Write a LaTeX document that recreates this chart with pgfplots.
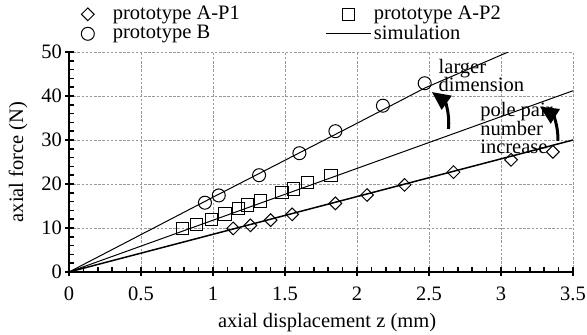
\documentclass[border=0pt]{standalone}
\usepackage{fontspec}
\setmainfont{Liberation Serif}
\usepackage{pgfplots}
\pgfplotsset{compat=1.18}
\usetikzlibrary{arrows.meta}
\pgfplotsset{
  markleg/.style={legend image code/.code={\path[draw=none,fill=none] (0cm,-0.1cm) rectangle (0.95cm,0.1cm); \draw[##1] plot coordinates {(0.475cm,0cm)};}},
  lineleg/.style={legend image code/.code={\path[draw=none,fill=none] (0cm,-0.1cm) rectangle (0.95cm,0.1cm); \draw[##1] (0cm,0cm) -- (0.95cm,0cm);}},
}
\begin{document}
\fontsize{12.3}{14}\selectfont
\begin{tikzpicture}[font=\fontsize{12.3}{14}\selectfont]
\begin{axis}[
  scale only axis, width=302.4pt, height=132pt,
  xmin=0, xmax=3.5, ymin=0, ymax=50,
  xtick={0,0.5,1,1.5,2,2.5,3,3.5}, ytick={0,10,20,30,40,50},
  xticklabels={0,0.5,1,1.5,2,2.5,3,3.5},
  minor x tick num=4, minor y tick num=4,
  axis x line=bottom, axis y line=left,
  axis line style={-, line width=1.2pt, black},
  tick align=inside, major tick length=5.4pt, minor tick length=3pt,
  tick style={black, line width=0.9pt},
  every major x tick/.append style={yshift=-2.4pt},
  every major y tick/.append style={xshift=-2.4pt},
  grid=major,
  major grid style={gray!80, dash pattern=on 1.5pt off 1pt, line width=0.6pt},
  /pgf/number format/assume math mode=true,
  xticklabel style={yshift=-4.5pt},
  xlabel={axial displacement z (mm)},
  ylabel={axial force (N)},
  xlabel style={at={(axis description cs:0.512,-0.2545)}, anchor=base},
  ylabel style={at={(axis description cs:-0.101,0.5)}, anchor=center},
  legend columns=2,
  legend cell align=left,
  legend style={draw=none, fill=none, inner sep=0pt,
    at={(axis description cs:-0.008,1.222)}, anchor=north west,
    row sep=-1.5pt, nodes={inner sep=1.5pt}},
]
\addplot[markleg, only marks, mark=square, mark size=2.7pt, mark options={rotate=45, line width=0.6pt, black}] coordinates {
(1.14,9.9)(1.26,10.6)(1.40,11.8)(1.55,13.1)(1.85,15.6)(2.07,17.5)(2.33,19.8)(2.67,22.7)(3.07,25.5)(3.36,27.3)};
\addlegendentry{\makebox[126pt][l]{prototype A-P1}}
\addplot[markleg, only marks, mark=square, mark size=3.7pt, mark options={line width=0.6pt, black}] coordinates {
(0.79,9.9)(0.887,10.8)(0.99,12.0)(1.083,13.2)(1.176,14.5)(1.24,15.2)(1.33,16.1)(1.48,18.0)(1.56,18.9)(1.655,20.3)(1.82,21.9)};
\addlegendentry{prototype A-P2}
\addplot[markleg, only marks, mark=o, mark size=3.9pt, mark options={line width=0.6pt, black}] coordinates {
(0.944,15.75)(1.04,17.4)(1.32,22.0)(1.60,27.0)(1.85,32.0)(2.18,37.8)(2.47,42.9)};
\addlegendentry{\makebox[126pt][l]{prototype B}}
\addplot[lineleg, black, line width=0.6pt, no marks] coordinates {(0,0)(1,17)(2,33.8)(2.47,41.8)(3.05,50)};
\addlegendentry{simulation}
\addplot[black, line width=0.6pt, no marks, forget plot] coordinates {(0,0)(3.5,41.2)};
\addplot[black, line width=0.9pt, no marks, forget plot] coordinates {(0,0)(3.5,30)};
\node[anchor=base west, inner sep=0pt] at (axis cs:2.565,45.2) {larger};
\node[anchor=base west, inner sep=0pt] at (axis cs:2.565,41.0) {dimension};
\node[anchor=base west, inner sep=0pt] at (axis cs:2.854,35.3) {pole pair};
\node[anchor=base west, inner sep=0pt] at (axis cs:2.854,31.1) {number};
\node[anchor=base west, inner sep=0pt] at (axis cs:2.854,27.0) {increase};
\draw[line width=1.8pt, -{Triangle[length=11pt,width=10pt]}] (axis cs:2.635,32.5) to[bend right=30] (axis cs:2.52,40.9);
\draw[line width=1.8pt, -{Triangle[length=11pt,width=10pt]}] (axis cs:3.395,29.8) to[bend right=30] (axis cs:3.27,37.6);
\end{axis}
\pgfresetboundingbox
\path[use as bounding box] ([xshift=-41.4pt,yshift=-37.2pt]current axis.south west) rectangle ([xshift=310.8pt,yshift=163.2pt]current axis.south west);
\end{tikzpicture}
\end{document}
